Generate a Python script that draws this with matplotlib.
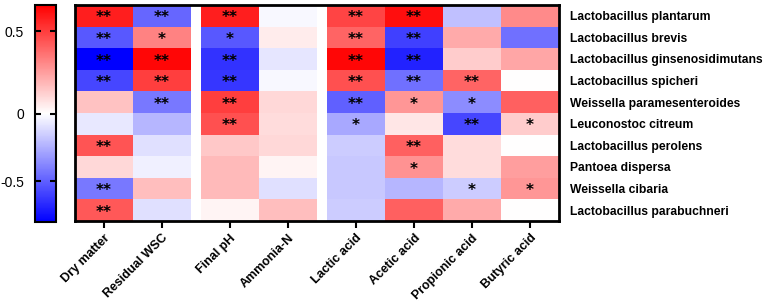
import numpy as np
import matplotlib
matplotlib.use("Agg")
import matplotlib.pyplot as plt
from matplotlib.colors import TwoSlopeNorm

species = ["Lactobacillus plantarum", "Lactobacillus brevis", "Lactobacillus ginsenosidimutans",
           "Lactobacillus spicheri", "Weissella paramesenteroides", "Leuconostoc citreum",
           "Lactobacillus perolens", "Pantoea dispersa", "Weissella cibaria",
           "Lactobacillus parabuchneri"]
variables = ["Dry matter", "Residual WSC", "Final pH", "Ammonia-N",
             "Lactic acid", "Acetic acid", "Propionic acid", "Butyric acid"]

corr = [
    [0.58, -0.48, 0.58, -0.02, 0.48, 0.62, -0.20, 0.30],
    [-0.52, 0.32, -0.52, 0.05, 0.40, -0.60, 0.22, -0.45],
    [-0.80, 0.64, -0.64, -0.08, 0.64, -0.69, 0.13, 0.23],
    [-0.58, 0.50, -0.63, -0.02, 0.45, -0.45, 0.40, 0.00],
    [0.155, -0.42, 0.50, 0.10, -0.50, 0.27, -0.36, 0.41],
    [-0.07, -0.23, 0.45, 0.09, -0.27, 0.065, -0.58, 0.13],
    [0.44, -0.10, 0.14, 0.10, -0.16, 0.41, 0.09, 0.00],
    [0.10, -0.05, 0.18, 0.03, -0.17, 0.28, 0.09, 0.25],
    [-0.42, 0.17, 0.18, -0.10, -0.17, -0.23, -0.16, 0.27],
    [0.43, -0.10, 0.03, 0.17, -0.16, 0.41, 0.22, 0.00],
]

stars = [
    ["**", "**", "**", "", "**", "**", "", ""],
    ["**", "*", "*", "", "**", "**", "", ""],
    ["**", "**", "**", "", "**", "**", "", ""],
    ["**", "**", "**", "", "**", "**", "**", ""],
    ["", "**", "**", "", "**", "*", "*", ""],
    ["", "", "**", "", "*", "", "**", "*"],
    ["**", "", "", "", "", "**", "", ""],
    ["", "", "", "", "", "*", "", ""],
    ["**", "", "", "", "", "", "*", "*"],
    ["**", "", "", "", "", "", "", ""],
]

cbar_ticks = [-0.5, 0, 0.5]
cbar_labels = ["-0.5", "0", "0.5"]

plt.rcParams['font.family'] = ['Liberation Sans', 'DejaVu Sans']

W, H = 767, 303
fig = plt.figure(figsize=(W / 100, H / 100), dpi=100)

ax = fig.add_axes([75 / W, 1 - 221 / H, (559 - 75) / W, (221 - 5) / H])
cax = fig.add_axes([35 / W, 1 - 222 / H, 21 / W, (222 - 5) / H])

gap = 0.17
# column positions with gaps after column 2 and column 4
offsets = [0, 0, gap, gap, 2 * gap, 2 * gap, 2 * gap, 2 * gap]
data = np.array(corr)
nrow, ncol = data.shape
norm = TwoSlopeNorm(vmin=-0.8, vcenter=0, vmax=0.66)
cmap = plt.get_cmap('bwr')

mesh = None
for j in range(ncol):
    x0 = j + offsets[j]
    xe = np.array([x0, x0 + 1])
    ye = np.arange(nrow + 1)
    mesh = ax.pcolormesh(xe, ye, data[:, j:j + 1], cmap=cmap, norm=norm)
    for i in range(nrow):
        if stars[i][j]:
            ax.text(x0 + 0.5, i + 0.6, stars[i][j], ha='center', va='center',
                    fontsize=11, fontweight='bold', color='black',
                    family='DejaVu Sans')

ax.set_xlim(0, ncol + 2 * gap)
ax.set_ylim(nrow, 0)
centers = [j + offsets[j] + 0.5 for j in range(ncol)]
ax.set_xticks(centers)
ax.set_xticklabels(variables, rotation=45, ha='right', rotation_mode='anchor',
                   fontsize=9, fontweight='bold')
ax.tick_params(axis='x', direction='out', length=5, width=1.5, pad=3)
ax.set_yticks(np.arange(nrow) + 0.5)
ax.set_yticklabels(species, fontsize=8.75, fontweight='bold')
ax.yaxis.tick_right()
ax.tick_params(axis='y', length=0, pad=8)
for s in ax.spines.values():
    s.set_linewidth(2)

cb = fig.colorbar(mesh, cax=cax, ticks=cbar_ticks)
cb.ax.set_yticklabels(cbar_labels, fontsize=10)
cb.outline.set_linewidth(1.5)
cax.yaxis.set_ticks_position('both')
cax.tick_params(direction='in', left=True, right=True, labelleft=True,
                labelright=False, length=4, width=1.5, pad=8)
cax.set_ylim(-0.8, 0.66)

fig.savefig("out.png", dpi=100)
